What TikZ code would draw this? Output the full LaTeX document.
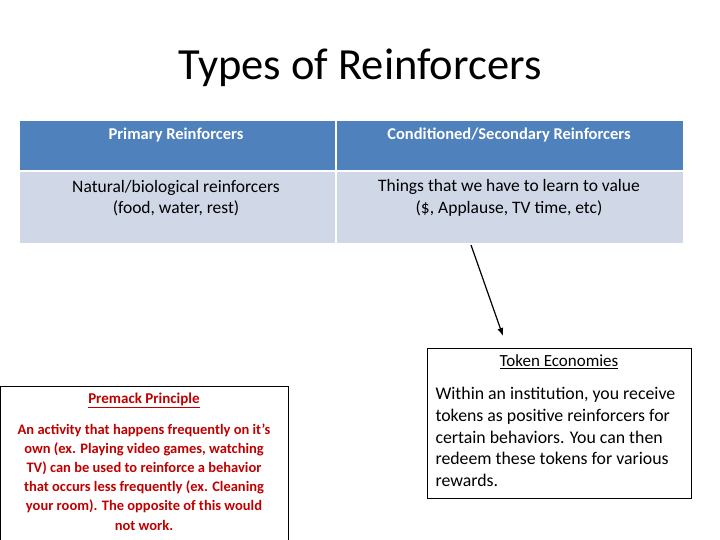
\documentclass[tikz,border=0pt]{standalone}
\usepackage{fontspec}
\setmainfont{Carlito}
\usetikzlibrary{arrows.meta}
\definecolor{hdr}{HTML}{4F81BD}
\definecolor{bdy}{HTML}{D0D8E8}
\definecolor{redt}{HTML}{C00000}
\begin{document}
\begin{tikzpicture}[x=1pt,y=-1pt,
  cell/.style={draw=white,line width=1.5pt,minimum height=#1,anchor=north west,inner sep=0pt},
  celltext/.style={align=center,font=\fontsize{17.5}{21.5}\selectfont}]
\useasboundingbox (0,0) rectangle (720,540);
\node (title) at (360,68) {\fontsize{44.5}{48}\selectfont Types of Reinforcers};
\node[cell=50pt,fill=hdr,minimum width=317pt] (h1) at (18,120) {};
\node[cell=50pt,fill=hdr,minimum width=348pt] (h2) at (335,120) {};
\node[cell=72pt,fill=bdy,minimum width=317pt] (b1) at (18,171) {};
\node[cell=72pt,fill=bdy,minimum width=348pt] (b2) at (335,171) {};
\node[celltext,text=white,font=\fontsize{16.5}{20}\selectfont\bfseries] at (176,135) {Primary Reinforcers};
\node[celltext,text=white,font=\fontsize{16.5}{20}\selectfont\bfseries] at (509,135) {Conditioned/Secondary Reinforcers};
\node[celltext] at (176,198) {Natural/biological reinforcers\\(food, water, rest)};
\node[celltext] at (509,198) {Things that we have to learn to value\\(\$, Applause, TV time, etc)};
\coordinate (a0) at (471,245);
\coordinate (a1) at (503,336);
\node[draw,line width=1pt,minimum width=264pt,minimum height=150pt,anchor=north west,inner sep=0pt] (tok) at (427,348) {};
\node at (559,362) {\fontsize{17}{20}\selectfont\underline{Token Economies}};
\node[anchor=north west,align=left,font=\fontsize{17.8}{21.6}\selectfont] at (432,384) {Within an institution, you receive\\tokens as positive reinforcers for\\certain behaviors.  You can then\\redeem these tokens for various\\rewards.};
\draw[-{Latex[length=8pt,width=6pt]},line width=1.2pt] (a0) -- (a1);
\node[draw,line width=1pt,minimum width=288pt,minimum height=160pt,anchor=north west,inner sep=0pt] (pre) at (0,386) {};
\node[text=redt] at (144,400) {\fontsize{15}{17}\selectfont\bfseries\underline{Premack Principle}};
\node[anchor=north,align=center,text=redt,font=\fontsize{14.5}{19.2}\selectfont\bfseries] at (144,420) {An activity that happens frequently on it’s\\own (ex. Playing video games, watching\\TV) can be used to reinforce a behavior\\that occurs less frequently (ex. Cleaning\\your room).  The opposite of this would\\not work.};
\end{tikzpicture}
\end{document}
